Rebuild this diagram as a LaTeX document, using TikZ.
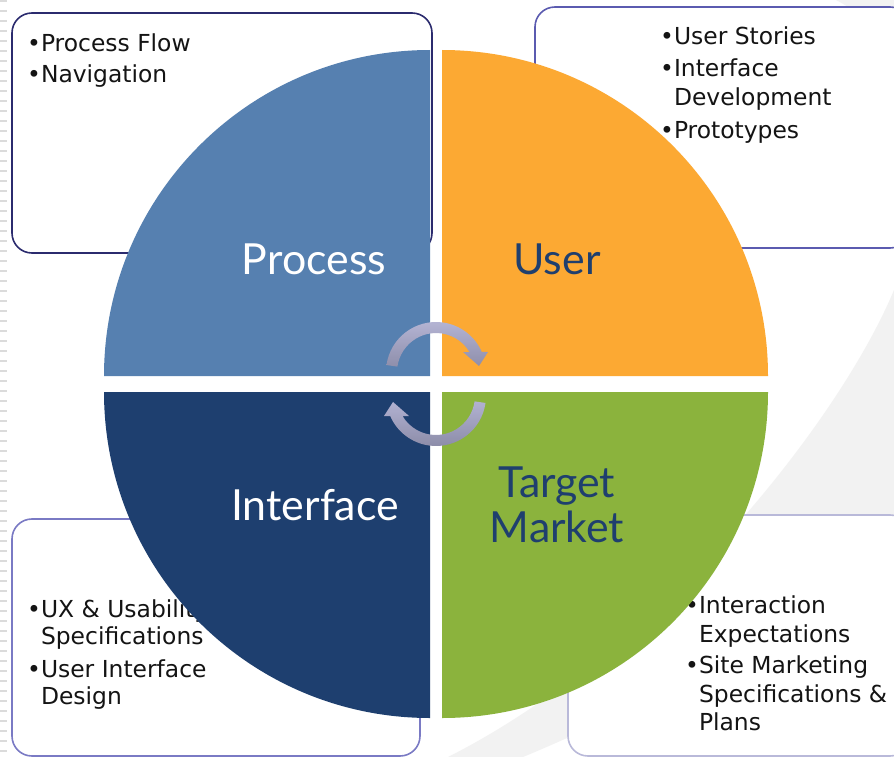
\documentclass[tikz,border=0pt]{standalone}
\usepackage{fontspec}
\setmainfont{DejaVu Sans}
\newfontfamily\labelfont{Lato}
\definecolor{procblue}{HTML}{5680B0}
\definecolor{userorange}{HTML}{FCA933}
\definecolor{ifaceblue}{HTML}{1E3F6F}
\definecolor{targetgreen}{HTML}{8BB33D}
\definecolor{labelblue}{HTML}{1F3F6E}
\definecolor{boxa}{HTML}{2B2B6E}
\definecolor{boxb}{HTML}{5B5BB0}
\definecolor{boxc}{HTML}{7A7AC4}
\definecolor{boxd}{HTML}{B9B9D9}
\definecolor{bggray}{HTML}{F2F2F2}
\definecolor{arrowlight}{HTML}{B6B6D6}
\definecolor{arrowdark}{HTML}{8A8AA6}
\tikzset{
  cornerbox/.style={line width=1.6pt, rounded corners=20, fill=white},
  bullettext/.style={anchor=base west, inner sep=0pt, text=black!92, font=\fontsize{23.5}{28}\selectfont},
  quadlabel/.style={inner sep=0pt, font=\labelfont\fontsize{43}{50}\selectfont},
  cyclearrow/.style={top color=arrowlight, bottom color=arrowdark, draw=none}
}
\begin{document}
\begin{tikzpicture}[x=1bp,y=-1bp]
\useasboundingbox (0,0) rectangle (894,757);
\clip (0,0) rectangle (894,757);
\fill[white] (0,0) rectangle (894,757);
% faint background shapes
\fill[bggray] (894,290) .. controls (840,420) and (660,650) .. (448,757)
  -- (523,757) .. controls (660,700) and (800,620) .. (894,560) -- cycle;
\fill[bggray] (836,0) -- (894,0) -- (894,40) .. controls (875,25) and (855,10) .. cycle;
% left stripes
\draw[black!14, line width=7bp, dash pattern=on 2bp off 8bp] (3.5,0) -- (3.5,757);
% corner boxes
\draw[cornerbox, draw=boxa] (12,13) rectangle (432,253);
\draw[cornerbox, draw=boxb] (535,7) rectangle (910,248);
\draw[cornerbox, draw=boxc] (12,519) rectangle (420,756);
\draw[cornerbox, draw=boxd] (568,515) rectangle (910,756);
% box texts
\node[bullettext] (t1a) at (27,52) {•Process Flow};
\node[bullettext] (t1b) at (27,83) {•Navigation};
\node[bullettext] (t2a) at (660,45) {•User Stories};
\node[bullettext] (t2b) at (660,77) {•Interface};
\node[bullettext] (t2c) at (660,105) {\phantom{•}Development};
\node[bullettext] (t2d) at (660,138) {•Prototypes};
\node[bullettext] (t3a) at (27,617) {•UX \& Usability};
\node[bullettext] (t3b) at (27,644) {\phantom{•}Specifications};
\node[bullettext] (t3c) at (27,677) {•User Interface};
\node[bullettext] (t3d) at (27,704) {\phantom{•}Design};
\node[bullettext] (t4a) at (685,613) {•Interaction};
\node[bullettext] (t4b) at (685,642) {\phantom{•}Expectations};
\node[bullettext] (t4c) at (685,673) {•Site Marketing};
\node[bullettext] (t4d) at (685,702) {\phantom{•}Specifications \&};
\node[bullettext] (t4e) at (685,730) {\phantom{•}Plans};
% quadrants
\fill[procblue] (430,376) -- (104,376) arc (180:270:326) -- cycle;
\fill[userorange] (442,376) -- (442,50) arc (270:360:326) -- cycle;
\fill[targetgreen] (442,392) -- (768,392) arc (0:90:326) -- cycle;
\fill[ifaceblue] (430,392) -- (430,718) arc (90:180:326) -- cycle;
% quadrant labels
\node[quadlabel, text=white, anchor=base] (lproc) at (314,274) {Process};
\node[quadlabel, text=labelblue, anchor=base] (luser) at (557,274) {User};
\node[quadlabel, text=white, anchor=base] (liface) at (315,520) {Interface};
\node[quadlabel, text=labelblue, anchor=base] (ltarget) at (557,497) {Target};
\node[quadlabel, text=labelblue, anchor=base] (lmarket) at (557,542) {Market};
% cycle arrows
\shade[cyclearrow] (436,372) ++(188:50) arc (188:336.4:50) -- (488,352) -- (479,366) -- (463,352) -- (469.5,352) arc (329.1:188:39) -- cycle;
\shade[cyclearrow] (436,396) ++(8:50) arc (8:156.4:50) -- (384,416) -- (393,402) -- (409,416) -- (402.5,416) arc (149.1:8:39) -- cycle;
\end{tikzpicture}
\end{document}
